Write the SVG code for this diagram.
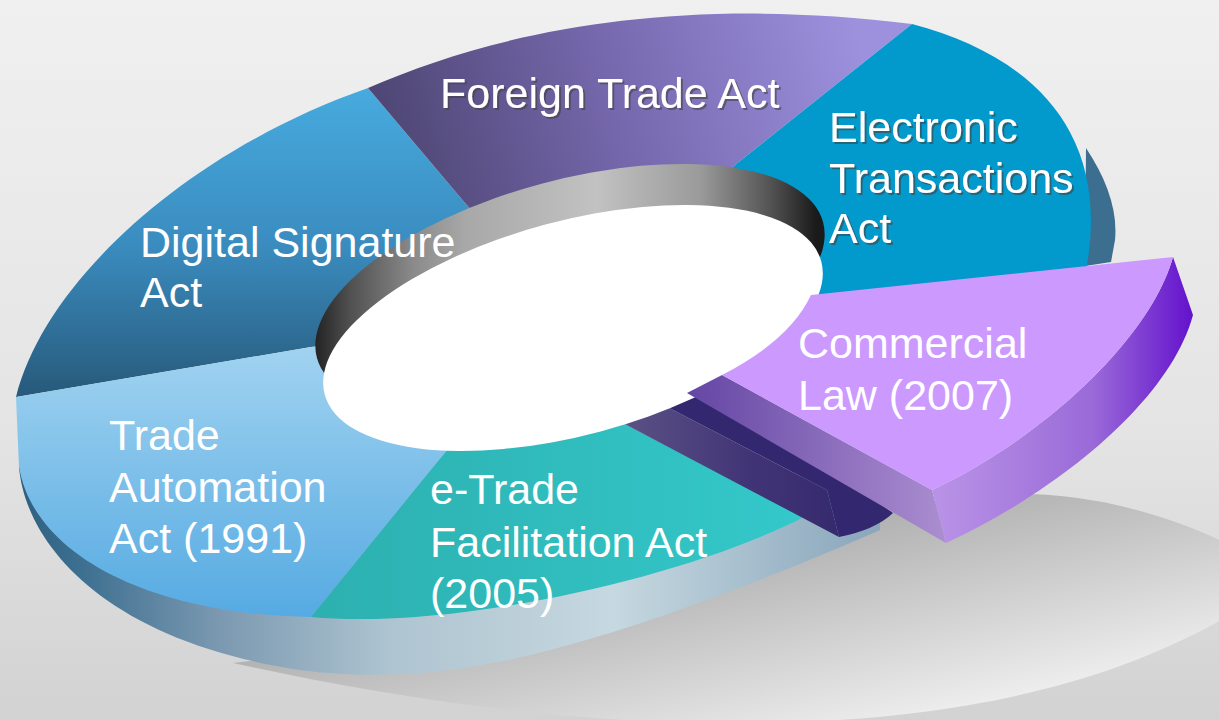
<svg xmlns="http://www.w3.org/2000/svg" width="1219" height="720" viewBox="0 0 1219 720">
<defs>
<linearGradient id="bg" x1="0" y1="0" x2="0" y2="1"><stop offset="0" stop-color="#f0f0f0"/><stop offset="0.6" stop-color="#e4e4e4"/><stop offset="1" stop-color="#d2d2d2"/></linearGradient>
<linearGradient id="shadow" gradientUnits="userSpaceOnUse" x1="950" y1="495" x2="1000" y2="720"><stop offset="0" stop-color="#b0b0b0"/><stop offset="1" stop-color="#f3f3f3"/></linearGradient>
<linearGradient id="band" gradientUnits="userSpaceOnUse" x1="19" y1="0" x2="880" y2="0"><stop offset="0" stop-color="#2f6080"/><stop offset="0.07" stop-color="#3c6f90"/><stop offset="0.23" stop-color="#7a98b0"/><stop offset="0.43" stop-color="#aec4d0"/><stop offset="0.69" stop-color="#c6d8e0"/><stop offset="0.91" stop-color="#9ab4c6"/><stop offset="1" stop-color="#8aa6bb"/></linearGradient>
<linearGradient id="gDigital" gradientUnits="userSpaceOnUse" x1="0" y1="90" x2="0" y2="400"><stop offset="0" stop-color="#47aade"/><stop offset="0.5" stop-color="#3a8cbf"/><stop offset="1" stop-color="#275878"/></linearGradient>
<linearGradient id="gForeign" gradientUnits="userSpaceOnUse" x1="400" y1="170" x2="860" y2="40"><stop offset="0" stop-color="#4f4775"/><stop offset="0.5" stop-color="#786ab0"/><stop offset="1" stop-color="#9d91de"/></linearGradient>
<linearGradient id="gTrade" gradientUnits="userSpaceOnUse" x1="0" y1="350" x2="0" y2="620"><stop offset="0" stop-color="#a0d2f0"/><stop offset="1" stop-color="#55aae2"/></linearGradient>
<linearGradient id="gETrade" gradientUnits="userSpaceOnUse" x1="320" y1="0" x2="800" y2="0"><stop offset="0" stop-color="#2db0b0"/><stop offset="1" stop-color="#34c8ca"/></linearGradient>
<linearGradient id="gWall" gradientUnits="userSpaceOnUse" x1="308" y1="0" x2="832" y2="0"><stop offset="0" stop-color="#1a1a1a"/><stop offset="0.08" stop-color="#505050"/><stop offset="0.2" stop-color="#8a8a8a"/><stop offset="0.3" stop-color="#a8a8a8"/><stop offset="0.55" stop-color="#c2c2c2"/><stop offset="0.75" stop-color="#9a9a9a"/><stop offset="0.88" stop-color="#555555"/><stop offset="0.97" stop-color="#1a1a1a"/></linearGradient>
<linearGradient id="gSlab" gradientUnits="userSpaceOnUse" x1="617" y1="0" x2="839" y2="0"><stop offset="0" stop-color="#5c5386"/><stop offset="0.6" stop-color="#413476"/><stop offset="1" stop-color="#362a6e"/></linearGradient>
<linearGradient id="gComSide" gradientUnits="userSpaceOnUse" x1="690" y1="0" x2="946" y2="0"><stop offset="0" stop-color="#6547a5"/><stop offset="1" stop-color="#ab8dd0"/></linearGradient>
<linearGradient id="gComOuter" gradientUnits="userSpaceOnUse" x1="940" y1="0" x2="1195" y2="0"><stop offset="0" stop-color="#b892e6"/><stop offset="0.6" stop-color="#9a6ad8"/><stop offset="1" stop-color="#6210cc"/></linearGradient>
<filter id="ts" x="-10%" y="-20%" width="120%" height="140%"><feDropShadow dx="2" dy="2" stdDeviation="0.6" flood-color="#404040" flood-opacity="0.6"/></filter>
</defs>
<style>
.lbl{fill:#ffffff;font-family:"Liberation Sans",Arial,sans-serif;font-size:43px}
.sh{filter:url(#ts)}
</style>
<rect width="1219" height="720" fill="url(#bg)"/>
<path id="floor-shadow" d="M233,663 C400,700 600,730 800,722 C950,716 1100,690 1230,615 L1230,545 C1150,505 1060,490 1000,495 C900,500 850,520 800,540 L600,620 Z" fill="url(#shadow)"/>
<g id="disk-side">
<path d="M19,440 L19,467 C25,540 100,640 300,670 C420,686 520,660 610,633 C700,605 800,565 880,530 L880,480 Z" fill="url(#band)"/>
<path d="M1086,148 C1106,178 1118,210 1115,240 L1111,262 L1085,266 Z" fill="#3b6e8f"/>
</g>
<g id="digital-signature"><path d="M311,347 L16,397 C45,280 190,150 368,88 L465,203 L573,320 Z" fill="url(#gDigital)"/></g>
<g id="foreign-trade"><path d="M465,203 L368,88 C500,30 680,-5 912,24 L735,165 L573,320 Z" fill="url(#gForeign)"/></g>
<g id="electronic-transactions"><path d="M735,165 L912,24 C1030,55 1110,130 1087,265 L1090,290 L811,300 L573,320 Z" fill="#0299cc"/></g>
<g id="trade-automation"><path d="M16,397 L19,467 C35,560 160,615 311,617 L447,450 L573,320 L311,347 Z" fill="url(#gTrade)"/></g>
<g id="e-trade"><path d="M311,617 C450,630 680,580 804,517 L617,420 L560,380 L447,450 Z" fill="url(#gETrade)"/></g>
<g id="cavity">
<path d="M600,411 L650,398 L827,490 L839,537 Z" fill="url(#gSlab)"/>
<path d="M650,398 L700,375 L893,513 Q875,530 839,537 L827,490 Z" fill="#33286f"/>
</g>
<g id="hole">
<path d="M316.9,357.8 A262,110 -15 1 1 823.1,222.2 A262,110 -15 1 1 316.9,357.8 Z" fill="url(#gWall)"/>
<path d="M324.7,394.5 A257,107 -15 1 1 821.3,261.5 A257,107 -15 1 1 324.7,394.5 Z" fill="#ffffff"/>
</g>
<g id="commercial-law">
<path d="M722,375 L932,490 L946,543 L687,393 Z" fill="url(#gComSide)"/>
<path d="M1173,257 L1193,315 C1170,400 1060,490 946,543 L932,490 C1040,440 1150,340 1173,257 Z" fill="url(#gComOuter)"/>
<path d="M811,295 L1173,257 C1150,340 1040,440 932,490 L722,375 Q790,340 811,295 Z" fill="#cc99ff"/>
</g>
<g id="connectors"/>
<g id="labels">
<text id="label-foreign-trade" class="lbl sh" x="440" y="108">Foreign Trade Act</text>
<text id="label-electronic-transactions" class="lbl sh" x="829" y="142">Electronic<tspan x="829" dy="51">Transactions</tspan><tspan x="829" dy="50">Act</tspan></text>
<text id="label-digital-signature" class="lbl" x="140" y="257">Digital Signature<tspan x="140" dy="50">Act</tspan></text>
<text id="label-trade-automation" class="lbl" x="109" y="450">Trade<tspan x="109" dy="52">Automation</tspan><tspan x="109" dy="51">Act (1991)</tspan></text>
<text id="label-e-trade" class="lbl" x="430" y="504">e-Trade<tspan x="430" dy="53">Facilitation Act</tspan><tspan x="430" dy="51">(2005)</tspan></text>
<text id="label-commercial-law" class="lbl" x="798" y="358">Commercial<tspan x="798" dy="52">Law (2007)</tspan></text>
</g>
</svg>
